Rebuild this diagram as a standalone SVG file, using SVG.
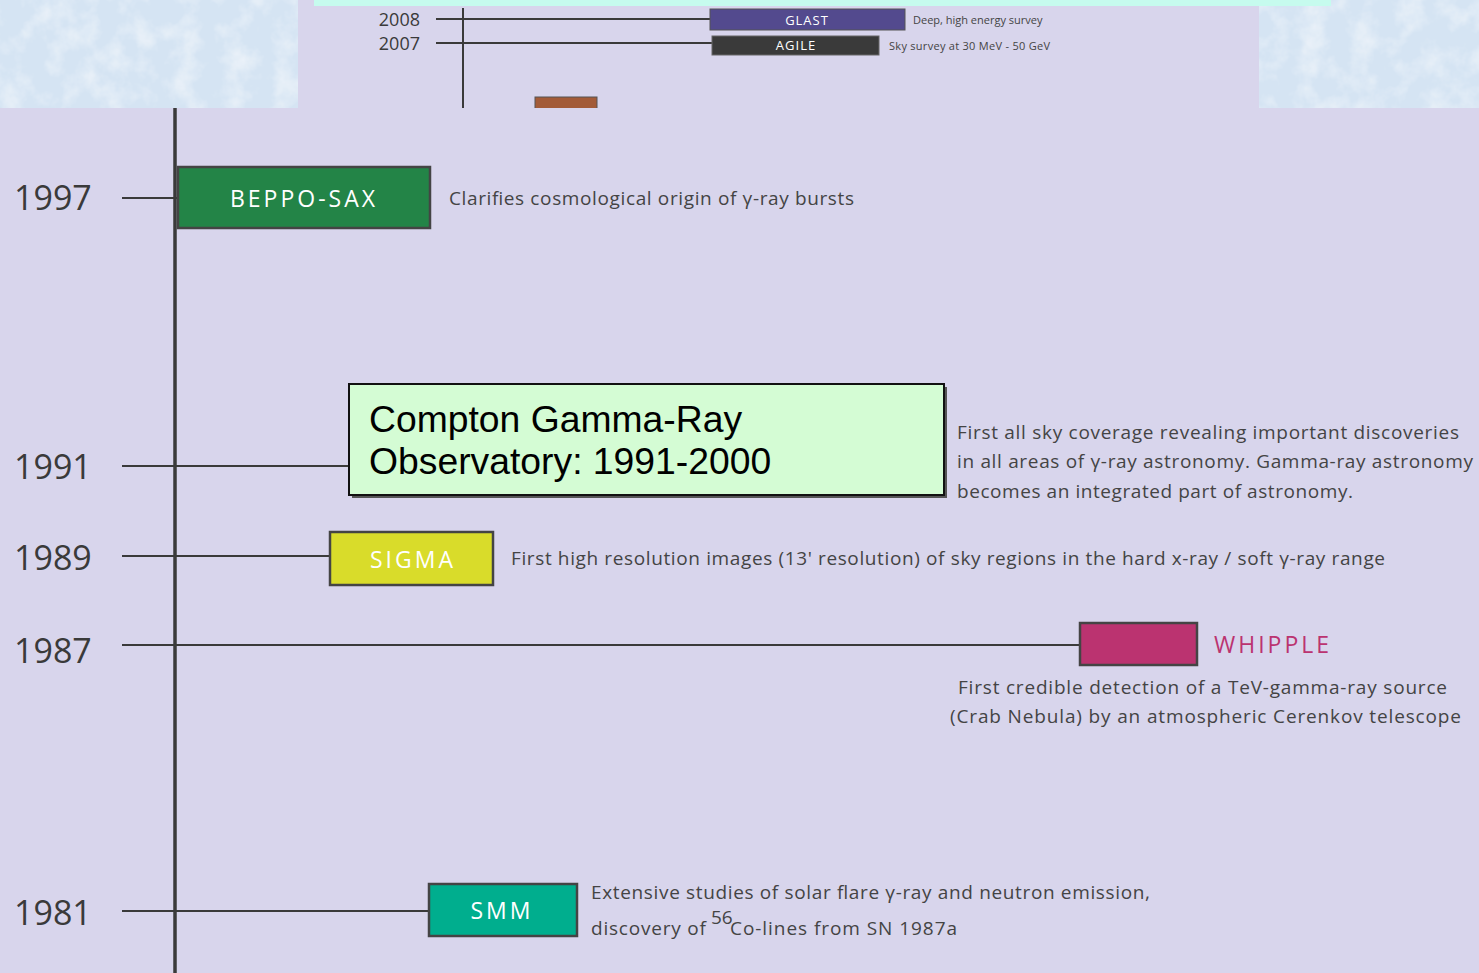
<svg xmlns="http://www.w3.org/2000/svg" width="1479" height="973" viewBox="0 0 1479 973">
<style>
.yr{font-family:"Open Sans","Noto Sans","Liberation Sans",sans-serif;font-size:34px;fill:#3a3a3a}
.yrs{font-family:"Open Sans","Noto Sans","Liberation Sans",sans-serif;font-size:18px;fill:#3a3a3a}
.tk{stroke:#3a3a3a;stroke-width:2;fill:none}
.box{stroke:#444;stroke-width:2.5}
.lbl{font-family:"Open Sans","Noto Sans","Liberation Sans",sans-serif;font-size:23px;fill:#ffffff;text-anchor:middle;letter-spacing:3px}
.lbls{font-family:"Open Sans","Noto Sans","Liberation Sans",sans-serif;font-size:13px;fill:#ffffff;text-anchor:middle;letter-spacing:1px}
.d{font-family:"Open Sans","Noto Sans","Liberation Sans",sans-serif;font-size:19px;fill:#444}
.ds{font-family:"Open Sans","Noto Sans","Liberation Sans",sans-serif;font-size:11px;fill:#444}
.cg{font-family:"Liberation Sans",Arial,sans-serif;font-size:37.3px;fill:#000}
</style>
<defs>
<filter id="tex" x="0" y="0" width="100%" height="100%">
<feTurbulence type="fractalNoise" baseFrequency="0.04" numOctaves="4" seed="4" result="n"/>
<feColorMatrix in="n" type="matrix" values="0 0 0 0 1  0 0 0 0 1  0 0 0 0 1  0 0 0 1.0 -0.42" result="w"/>
<feComposite in="w" in2="SourceGraphic" operator="over"/>
</filter>
<clipPath id="topclip"><rect x="298" y="0" width="961" height="108"/></clipPath>
</defs>
<!-- background -->
<rect x="0" y="0" width="1479" height="973" fill="#d8d5ec"/>
<rect x="0" y="0" width="298" height="108" fill="#d5e4f3" filter="url(#tex)"/>
<rect x="1259" y="0" width="220" height="108" fill="#d5e4f3" filter="url(#tex)"/>
<!-- top inset -->
<g id="inset">
<rect x="298" y="0" width="961" height="108" fill="#d8d5ec"/>
<rect x="314" y="0" width="1017" height="6" fill="#c6fbee"/>
<g clip-path="url(#topclip)">
<line x1="463" y1="8" x2="463" y2="108" class="tk"/>
<rect x="535" y="97" width="62" height="20" fill="#a35b38" stroke="#555" stroke-width="1"/>
</g>
</g>
<g id="connectors">
<line x1="436" y1="19" x2="710" y2="19" class="tk" stroke-width="1.2"/>
<line x1="436" y1="43" x2="712" y2="43" class="tk" stroke-width="1.2"/>
<line x1="175" y1="108" x2="175" y2="973" stroke="#3a3a3a" stroke-width="3.5"/>
<line x1="122" y1="198" x2="178" y2="198" class="tk"/>
<line x1="122" y1="466" x2="349" y2="466" class="tk"/>
<line x1="122" y1="556" x2="330" y2="556" class="tk"/>
<line x1="122" y1="645" x2="1080" y2="645" class="tk"/>
<line x1="122" y1="911" x2="429" y2="911" class="tk"/>
</g>
<g id="glast">
<text x="420" y="26" class="yrs" text-anchor="end">2008</text>
<rect x="710" y="9" width="195" height="21" fill="#534a8e" stroke="#555" stroke-width="1"/>
<text x="807" y="25" class="lbls">GLAST</text>
<text x="913" y="24" class="ds">Deep, high energy survey</text>
</g>
<g id="agile">
<text x="420" y="50" class="yrs" text-anchor="end">2007</text>
<rect x="712" y="36" width="167" height="19" fill="#3a3a3a" stroke="#666" stroke-width="1"/>
<text x="796" y="50" class="lbls">AGILE</text>
<text x="889" y="50" class="ds" textLength="161" lengthAdjust="spacing">Sky survey at 30 MeV - 50 GeV</text>
</g>
<g id="beppo">
<text x="14" y="210" class="yr">1997</text>
<rect x="178" y="167" width="252" height="61" fill="#238447" class="box"/>
<text x="304" y="207" class="lbl" letter-spacing="4">BEPPO-SAX</text>
<text x="449" y="205" class="d" textLength="405" lengthAdjust="spacing">Clarifies cosmological origin of γ-ray bursts</text>
</g>
<g id="compton">
<text x="14" y="479" class="yr">1991</text>
<rect x="352" y="387" width="595" height="111" fill="#555"/>
<rect x="349" y="384" width="595" height="111" fill="#d4fcd4" stroke="#111" stroke-width="2"/>
<text x="369" y="432" class="cg">Compton Gamma-Ray</text>
<text x="369" y="474" class="cg">Observatory: 1991-2000</text>
<text x="957" y="439" class="d" textLength="502" lengthAdjust="spacing">First all sky coverage revealing important discoveries</text>
<text x="957" y="468" class="d" textLength="516" lengthAdjust="spacing">in all areas of γ-ray astronomy. Gamma-ray astronomy</text>
<text x="957" y="498" class="d" textLength="396" lengthAdjust="spacing">becomes an integrated part of astronomy.</text>
</g>
<g id="sigma">
<text x="14" y="570" class="yr">1989</text>
<rect x="330" y="532" width="163" height="53" fill="#d9dc2a" class="box"/>
<text x="413" y="568" class="lbl">SIGMA</text>
<text x="511" y="565" class="d" textLength="874" lengthAdjust="spacing">First high resolution images (13' resolution) of sky regions in the hard x-ray / soft γ-ray range</text>
</g>
<g id="whipple">
<text x="14" y="663" class="yr">1987</text>
<rect x="1080" y="623" width="117" height="42" fill="#bb3370" class="box"/>
<text x="1214" y="653" font-family="'Open Sans','Noto Sans','Liberation Sans',sans-serif" font-size="23" fill="#bb3370" letter-spacing="3">WHIPPLE</text>
<text x="958" y="694" class="d" textLength="489" lengthAdjust="spacing">First credible detection of a TeV-gamma-ray source</text>
<text x="950" y="723" class="d" textLength="511" lengthAdjust="spacing">(Crab Nebula) by an atmospheric Cerenkov telescope</text>
</g>
<g id="smm">
<text x="14" y="925" class="yr">1981</text>
<rect x="429" y="884" width="148" height="52" fill="#00ae8e" class="box"/>
<text x="502" y="919" class="lbl">SMM</text>
<text x="591" y="899" class="d" textLength="559" lengthAdjust="spacing">Extensive studies of solar flare γ-ray and neutron emission,</text>
<text x="591" y="935" class="d" textLength="115" lengthAdjust="spacing">discovery of</text>
<text x="711" y="924" class="d" font-size="11.5">56</text>
<text x="730" y="935" class="d" textLength="227" lengthAdjust="spacing">Co-lines from SN 1987a</text>
</g>
</svg>
